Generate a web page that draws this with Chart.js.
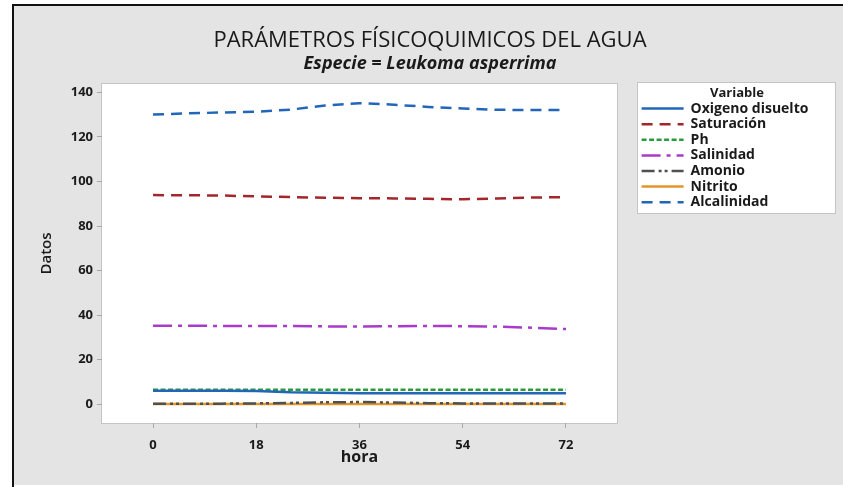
<!DOCTYPE html>
<html>
<head>
<meta charset="utf-8">
<script src="https://cdn.jsdelivr.net/npm/chart.js@4.4.0/dist/chart.umd.min.js"></script>
<style>
  html, body { margin: 0; padding: 0; background: #fff; }
</style>
</head>
<body>
<canvas id="grafico" width="843" height="487"></canvas>
<script>
// datos (cada 6 horas)
var horas = [0, 6, 12, 18, 24, 30, 36, 42, 48, 54, 60, 66, 72]
var ticksHora = [0, 18, 36, 54, 72]
var ticksDatos = [0, 20, 40, 60, 80, 100, 120, 140]

var oxigeno = [6.0, 6.0, 6.0, 5.9, 5.3, 5.1, 4.9, 4.9, 4.9, 4.9, 4.9, 4.9, 4.9]
var saturacion = [93.9, 93.8, 93.7, 93.3, 93.0, 92.7, 92.5, 92.4, 92.2, 92.0, 92.4, 92.8, 93.0]
var ph = [6.4, 6.4, 6.4, 6.4, 6.4, 6.4, 6.4, 6.4, 6.4, 6.4, 6.4, 6.4, 6.4]
var salinidad = [35.2, 35.2, 35.1, 35.1, 35.1, 34.9, 34.8, 35.0, 35.1, 35.0, 34.8, 34.3, 33.7]
var amonio = [0.1, 0.1, 0.2, 0.3, 0.5, 0.8, 0.9, 0.7, 0.4, 0.3, 0.3, 0.3, 0.3]
var nitrito = [0, 0, 0, 0, 0, 0, 0, 0, 0, 0, 0, 0, 0]
var alcalinidad = [130.1, 130.6, 131.0, 131.3, 132.3, 134.1, 135.2, 134.5, 133.5, 132.8, 132.2, 132.1, 132.1]

var fuente = 'Open Sans'
var negro = '#1a1a1a'

function serie(nombre, valores, color, guion) {
    var puntos = []
    for (let i = 0; i < horas.length; i++) {
        puntos.push({ x: horas[i], y: valores[i] })
    }
    return {
        label: nombre,
        data: puntos,
        borderColor: color,
        backgroundColor: color,
        borderWidth: 2.5,
        borderDash: guion,
        pointRadius: 0,
        tension: 0,
        fill: false
    }
}

var dadosLinea = {
    datasets: [
        serie('Oxigeno disuelto', oxigeno, '#2166b8', []),
        serie('Saturación', saturacion, '#a3262b', [11, 7]),
        serie('Ph', ph, '#2a9a3c', [5, 2.5]),
        serie('Salinidad', salinidad, '#a93bcb', [19, 6, 4, 6]),
        serie('Amonio', amonio, '#505050', [13, 4, 3, 3, 3, 4]),
        serie('Nitrito', nitrito, '#e2962a', []),
        serie('Alcalinidad', alcalinidad, '#2166b8', [11, 7])
    ]
}

// etiquetas de la leyenda con el mismo trazo de cada linea
function etiquetasLeyenda(chart) {
    var items = Chart.defaults.plugins.legend.labels.generateLabels(chart)
    for (let i = 0; i < items.length; i++) {
        var ds = chart.data.datasets[items[i].datasetIndex]
        items[i].lineDash = ds.borderDash
        items[i].strokeStyle = ds.borderColor
        items[i].lineWidth = 2.5
    }
    return items
}

// fondo gris, marco negro, area blanca y caja de la leyenda
var fondo = {
    id: 'fondo',
    beforeInit: function (chart) {
        var fitOriginal = chart.legend.fit
        chart.legend.fit = function () {
            fitOriginal.call(this)
            this.width = 194
        }
    },
    beforeDraw: function (chart) {
        var c = chart.ctx
        var a = chart.chartArea
        var lg = chart.legend
        c.save()
        c.fillStyle = '#fff'
        c.fillRect(0, 0, chart.width, chart.height)
        c.fillStyle = '#e4e4e4'
        c.fillRect(14, 6, chart.width - 14, chart.height - 8)
        c.fillStyle = '#111'
        c.fillRect(12, 4, 2, chart.height - 4)
        c.fillRect(12, 4, chart.width - 12, 2)

        c.fillStyle = '#fff'
        c.fillRect(a.left, a.top, a.right - a.left, a.bottom - a.top)
        c.strokeStyle = '#c4c4c4'
        c.lineWidth = 1
        c.strokeRect(a.left - 0.5, a.top - 0.5, a.right - a.left + 1, a.bottom - a.top + 1)

        c.fillRect(lg.left - 2, a.top - 1, 197, 130)
        c.strokeRect(lg.left - 2.5, a.top - 1.5, 198, 131)
        c.restore()
    }
}

const ctx = document.getElementById('grafico')

var myLineChart = new Chart(ctx, {
    type: 'line',
    data: dadosLinea,
    plugins: [fondo],
    options: {
        responsive: false,
        animation: false,
        layout: { padding: { left: 26, right: 9, top: 0, bottom: 0 } },
        scales: {
            x: {
                type: 'linear',
                min: -8.9,
                max: 80.9,
                afterBuildTicks: function (s) { s.ticks = ticksHora.map(function (v) { return { value: v } }) },
                afterFit: function (s) { s.height = 64 },
                grid: { drawOnChartArea: false, drawTicks: true, tickLength: 5, color: '#a8a8a8' },
                border: { display: false },
                ticks: { padding: 9, color: negro, font: { family: fuente, size: 13, weight: 'bold' } },
                title: { display: true, text: 'hora', color: negro, padding: { top: 0, bottom: 20 }, font: { family: fuente, size: 16, weight: 'bold' } }
            },
            y: {
                min: -8.5,
                max: 143.8,
                afterBuildTicks: function (s) { s.ticks = ticksDatos.map(function (v) { return { value: v } }) },
                afterFit: function (s) { s.width = 76 },
                grid: { drawOnChartArea: false, drawTicks: true, tickLength: 5, color: '#a8a8a8' },
                border: { display: false },
                ticks: { padding: 4, color: negro, font: { family: fuente, size: 13, weight: 'bold' } },
                title: { display: true, text: 'Datos', color: negro, padding: { top: 12, bottom: 0 }, font: { family: fuente, size: 15, weight: '600' } }
            },
            hueco: {
                type: 'linear',
                position: 'right',
                display: true,
                grid: { display: false },
                border: { display: false },
                ticks: { display: false },
                afterFit: function (s) { s.width = 23 }
            }
        },
        plugins: {
            title: {
                display: true,
                text: 'PARÁMETROS FÍSICOQUIMICOS DEL AGUA',
                color: negro,
                padding: { top: 30, bottom: 0 },
                font: { family: fuente, size: 22, weight: 'normal', lineHeight: 1 }
            },
            subtitle: {
                display: true,
                text: 'Especie = Leukoma asperrima',
                color: negro,
                padding: { top: 3, bottom: 11 },
                font: { family: fuente, size: 18, style: 'italic', weight: 'bold', lineHeight: 1 }
            },
            legend: {
                display: true,
                position: 'right',
                align: 'start',
                fullSize: false,
                title: { display: true, text: 'Variable', color: negro, padding: { top: 3, bottom: 0 }, font: { family: fuente, size: 13, weight: 'bold', lineHeight: 1 } },
                labels: {
                    usePointStyle: true,
                    pointStyle: 'line',
                    pointStyleWidth: 42,
                    boxWidth: 42,
                    padding: 1.6,
                    color: negro,
                    generateLabels: etiquetasLeyenda,
                    font: { family: fuente, size: 14, weight: 'bold' }
                }
            },
            tooltip: { enabled: false }
        }
    }
});
</script>
</body>
</html>
